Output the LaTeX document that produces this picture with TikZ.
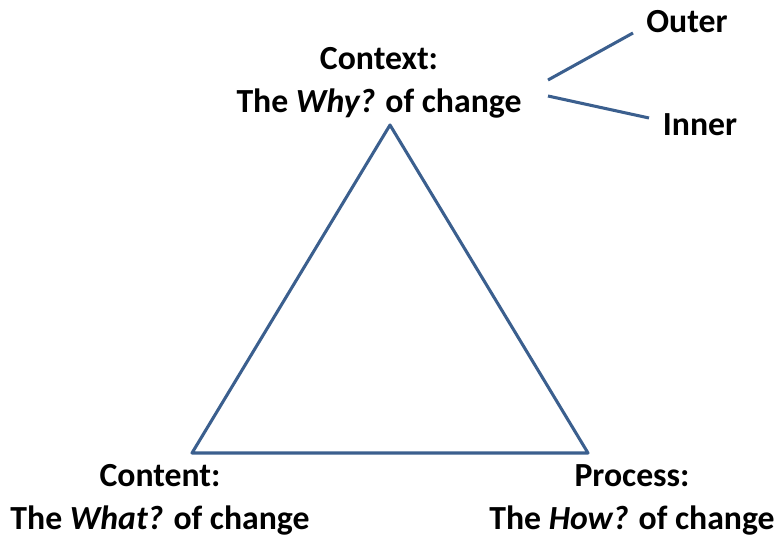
\documentclass[tikz,border=0pt]{standalone}
\usepackage{fontspec}
\setmainfont{Carlito}
\usepackage{tikz}

\definecolor{edgeblue}{HTML}{3B5F8E}

\begin{document}
\begin{tikzpicture}[x=0.75pt, y=-0.75pt,
  every node/.style={font=\fontsize{25.3}{32.3}\selectfont\bfseries, align=center, inner sep=0pt, outer sep=0pt},
  side/.style={color=edgeblue, line width=2.3pt, line join=round}]
\useasboundingbox (0,0) rectangle (777,538);

\coordinate (apex) at (390,125);
\coordinate (left) at (192,453);
\coordinate (right) at (588,453);
\draw[side] (apex) -- (left) -- (right) -- cycle;

\node (context) at (379,83) {Context:\\The \textit{Why?} of change};
\node (content) at (160,500) {Content:\\The \textit{What?} of change};
\node (process) at (632,500) {Process:\\The \textit{How?} of change};

\node (outer) at (687,22) {Outer};
\node (inner) at (700,125) {Inner};

\coordinate (fork up) at (548,80);
\coordinate (fork down) at (548,96);
\coordinate (outer end) at (633,33);
\coordinate (inner end) at (649,118);
\draw[side] (fork up) -- (outer end);
\draw[side] (fork down) -- (inner end);
\end{tikzpicture}
\end{document}
